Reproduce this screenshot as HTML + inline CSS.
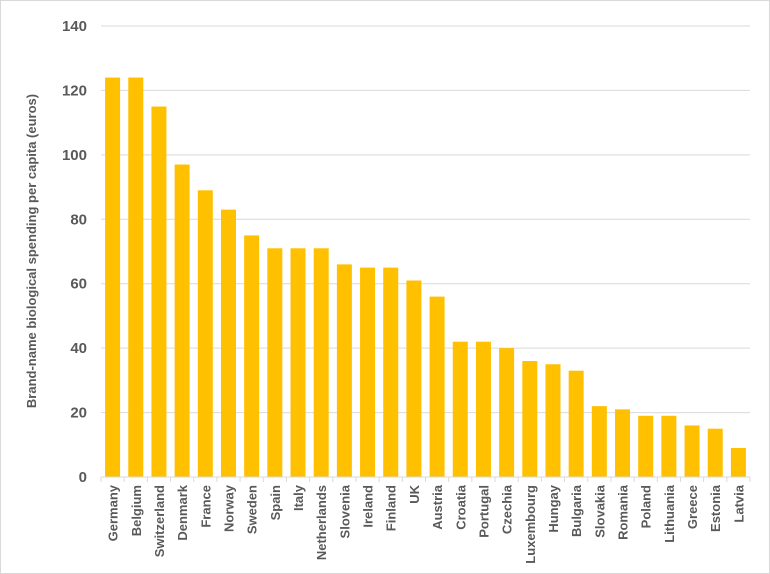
<!DOCTYPE html>
<html><head><meta charset="utf-8"><style>
html,body{margin:0;padding:0;background:#fff;}
svg{display:block;font-family:"Liberation Sans",sans-serif;}
</style></head><body>
<svg id="chart" width="770" height="574" xmlns="http://www.w3.org/2000/svg">
<rect x="0.5" y="0.5" width="769" height="573" fill="#fff" stroke="#d9d9d9"/>
<g id="grid"></g><g id="bars"></g><g id="axes"></g>
<text transform="translate(36,251) rotate(-90)" text-anchor="middle" font-size="13" font-weight="bold" fill="#595959">Brand-name biological spending per capita  (euros)</text>
</svg>
<script>
const categories = ["Germany","Belgium","Switzerland","Denmark","France","Norway","Sweden","Spain","Italy","Netherlands","Slovenia","Ireland","Finland","UK","Austria","Croatia","Portugal","Czechia","Luxembourg","Hungay","Bulgaria","Slovakia","Romania","Poland","Lithuania","Greece","Estonia","Latvia"];
const values = [124,124,115,97,89,83,75,71,71,71,66,65,65,61,56,42,42,40,36,35,33,22,21,19,19,16,15,9];
const yTicks = [0,20,40,60,80,100,120,140];
const NS="http://www.w3.org/2000/svg";
const pL=101,pR=750,pT=26,pB=477,yMax=140;
const y=v=>pB-(v/yMax)*(pB-pT);
const band=(pR-pL)/categories.length;
const x=i=>pL+i*band;
function mk(tag,attrs,parent){const e=document.createElementNS(NS,tag);for(const k in attrs)e.setAttribute(k,attrs[k]);parent.appendChild(e);return e;}
const grid=document.getElementById('grid'),bars=document.getElementById('bars'),axes=document.getElementById('axes');
yTicks.forEach(t=>{
  if(t>0){const l=mk('line',{x1:pL,x2:pR,y1:y(t),y2:y(t),stroke:'#d9d9d9','stroke-width':1},grid);
  
  }
  const tx=mk('text',{x:87,y:y(t)+5,'text-anchor':'end','font-size':'15','font-weight':'bold',fill:'#595959'},axes);
  tx.textContent=t;
  
  
});
const bw=15;
values.forEach((v,i)=>{
  const r=mk('rect',{x:x(i)+(band-bw)/2,y:y(v),width:bw,height:pB-y(v),fill:'#ffc000'},bars);
  
  
  const cx=x(i)+band/2+5;
  const tx=mk('text',{transform:`translate(${cx},485) rotate(-90)`,'text-anchor':'end','font-size':'13','font-weight':'bold',fill:'#595959'},axes);
  tx.textContent=categories[i];
  
  
});
const ax=mk('line',{x1:pL,x2:pR,y1:pB,y2:pB,stroke:'#d9d9d9','stroke-width':1},axes);


for(let i=0;i<=categories.length;i++){
  const t=mk('line',{x1:x(i),x2:x(i),y1:pB,y2:pB+5,stroke:'#d9d9d9','stroke-width':1},axes);
  
  
}
</script>
</body></html>
